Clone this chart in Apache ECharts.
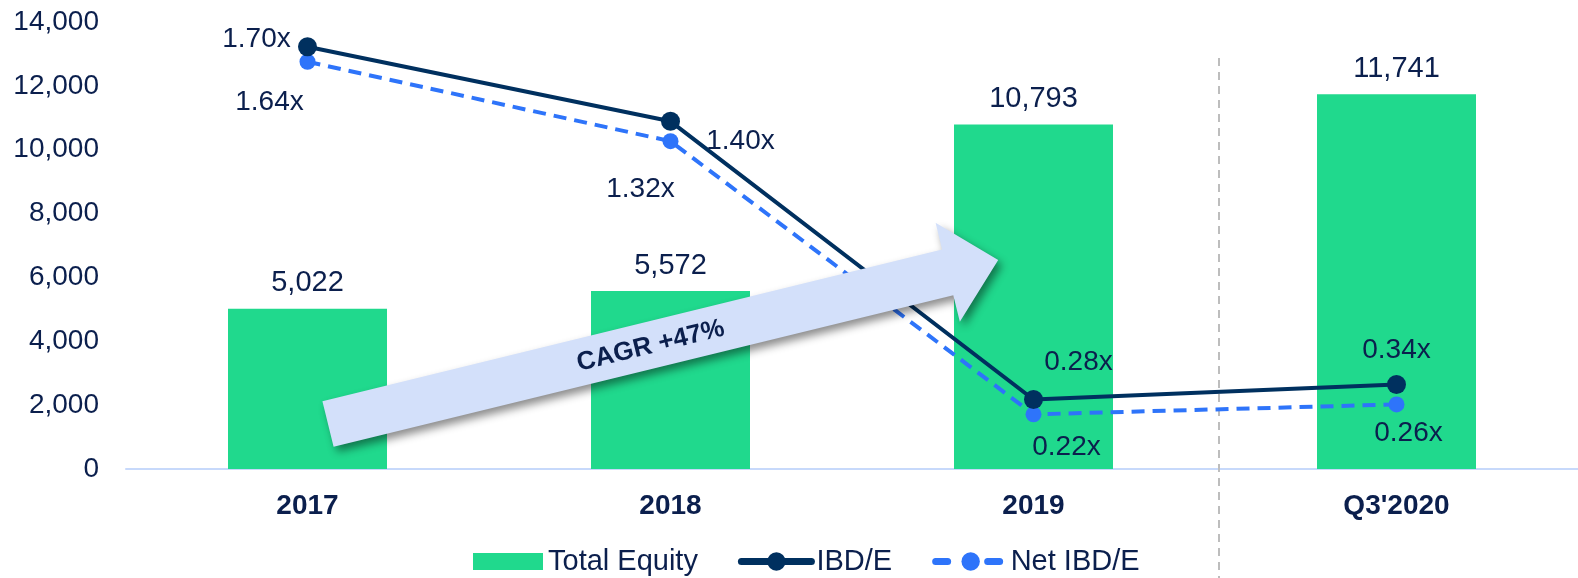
<!DOCTYPE html>
<html>
<head>
<meta charset="utf-8">
<title>Total Equity / IBD/E</title>
<script src="https://cdn.jsdelivr.net/npm/echarts@6/dist/echarts.min.js"></script>
<style>
  html, body { margin: 0; padding: 0; background: #fff; }
  #chart { width: 1578px; height: 578px; }
</style>
</head>
<body>
<div id="chart"></div>
<script>
// data
const categories = ['2017', '2018', '2019', "Q3'2020"]
const totalEquity = [5022, 5572, 10793, 11741]
const ibdE = [1.70, 1.40, 0.28, 0.34]
const netIbdE = [1.64, 1.32, 0.22, 0.26]
const equityAxis = { min: 0, max: 14000, interval: 2000 }
const ratioAxis = { min: 0, max: 1.8 }
const cagrText = 'CAGR +47%'

// label placement (px offsets from each point)
const ibdLabelOffsets = [[-51, -8], [70, 20], [45, -37], [0, -34]]
const netLabelOffsets = [[-38, 41], [-30, 48], [33, 33], [12, 29]]

const FONT = '"Liberation Sans", Arial, sans-serif'
const TEXT = '#0B1F4D'
const GREEN = '#20D98D'
const NAVY = '#00305F'
const BLUE = '#2E74FA'

const chart = echarts.init(document.getElementById('chart'))

const ratioLabel = {
  show: true,
  position: 'inside',
  color: TEXT,
  fontSize: 28,
  fontFamily: FONT,
  formatter: p => p.value.toFixed(2) + 'x'
}

chart.setOption({
  animation: false,
  textStyle: { fontFamily: FONT },
  grid: { left: 126, right: 0, top: 22, bottom: 109 },
  legend: {
    bottom: -3,
    left: 468,
    itemWidth: 70,
    itemHeight: 23,
    itemGap: 40,
    symbolKeepAspect: true,
    textStyle: { color: TEXT, fontSize: 29, fontFamily: FONT },
    data: [
      { name: 'Total Equity', icon: 'path://M0,0H70V17H0Z' },
      { name: 'IBD/E', lineStyle: { width: 7, cap: 'round' } },
      { name: 'Net IBD/E', lineStyle: { width: 7, cap: 'round', type: [12, 40] } }
    ]
  },
  xAxis: {
    type: 'category',
    data: categories,
    axisLine: { lineStyle: { color: '#C7D9FB', width: 2 } },
    axisTick: { show: false },
    axisLabel: { color: TEXT, fontSize: 28, fontWeight: 'bold', margin: 23, fontFamily: FONT }
  },
  yAxis: [
    {
      type: 'value',
      min: equityAxis.min,
      max: equityAxis.max,
      interval: equityAxis.interval,
      axisLine: { show: false },
      axisTick: { show: false },
      splitLine: { show: false },
      axisLabel: {
        color: TEXT,
        fontSize: 28,
        margin: 27,
        fontFamily: FONT,
        formatter: v => v.toLocaleString('en-US')
      }
    },
    {
      type: 'value',
      min: ratioAxis.min,
      max: ratioAxis.max,
      show: false,
      splitLine: { show: false }
    }
  ],
  series: [
    {
      name: 'Total Equity',
      type: 'bar',
      data: totalEquity,
      barWidth: 159,
      itemStyle: { color: GREEN },
      label: {
        show: true,
        position: 'top',
        distance: 11,
        color: TEXT,
        fontSize: 29,
        fontFamily: FONT,
        formatter: p => p.value.toLocaleString('en-US')
      },
      z: 2
    },
    {
      name: 'IBD/E',
      type: 'line',
      yAxisIndex: 1,
      data: ibdE.map((v, i) => ({ value: v, label: { offset: ibdLabelOffsets[i] } })),
      symbol: 'circle',
      symbolSize: 19,
      itemStyle: { color: NAVY },
      lineStyle: { color: NAVY, width: 4 },
      label: ratioLabel,
      z: 4
    },
    {
      name: 'Net IBD/E',
      type: 'line',
      yAxisIndex: 1,
      data: netIbdE.map((v, i) => ({ value: v, label: { offset: netLabelOffsets[i] } })),
      symbol: 'circle',
      symbolSize: 16,
      itemStyle: { color: BLUE },
      lineStyle: { color: BLUE, width: 4, type: [13, 8] },
      label: ratioLabel,
      z: 3
    }
  ]
})

// separator between 2019 and Q3'2020, plus the CAGR arrow
const x2019 = chart.convertToPixel({ xAxisIndex: 0 }, 2)
const xQ3 = chart.convertToPixel({ xAxisIndex: 0 }, 3)
const sepX = (x2019 + xQ3) / 2 + 4

const arrowLen = 690
const headLen = 52
const shaftHalf = 23.5
const headHalf = 51

chart.setOption({
  graphic: [
    {
      type: 'line',
      z: 1,
      shape: { x1: sepX, y1: 58, x2: sepX, y2: 578 },
      style: { stroke: '#BDBDBD', lineWidth: 2, lineDash: [8, 6] }
    },
    {
      type: 'group',
      x: 328,
      y: 424,
      rotation: Math.atan2(164, 670),
      z: 100,
      children: [
        {
          type: 'polygon',
          z: 100,
          shape: {
            points: [
              [0, -shaftHalf],
              [arrowLen - headLen, -shaftHalf],
              [arrowLen - headLen, -headHalf],
              [arrowLen, 0],
              [arrowLen - headLen, headHalf],
              [arrowLen - headLen, shaftHalf],
              [0, shaftHalf]
            ]
          },
          style: {
            fill: '#D3E0FA',
            shadowBlur: 8,
            shadowOffsetX: 4,
            shadowOffsetY: 5,
            shadowColor: 'rgba(0,0,0,0.45)'
          }
        },
        {
          type: 'text',
          z: 101,
          x: 332,
          y: 1,
          style: {
            text: cagrText,
            fill: TEXT,
            font: 'bold 26px ' + FONT,
            align: 'center',
            verticalAlign: 'middle'
          }
        }
      ]
    }
  ]
})
</script>
</body>
</html>
